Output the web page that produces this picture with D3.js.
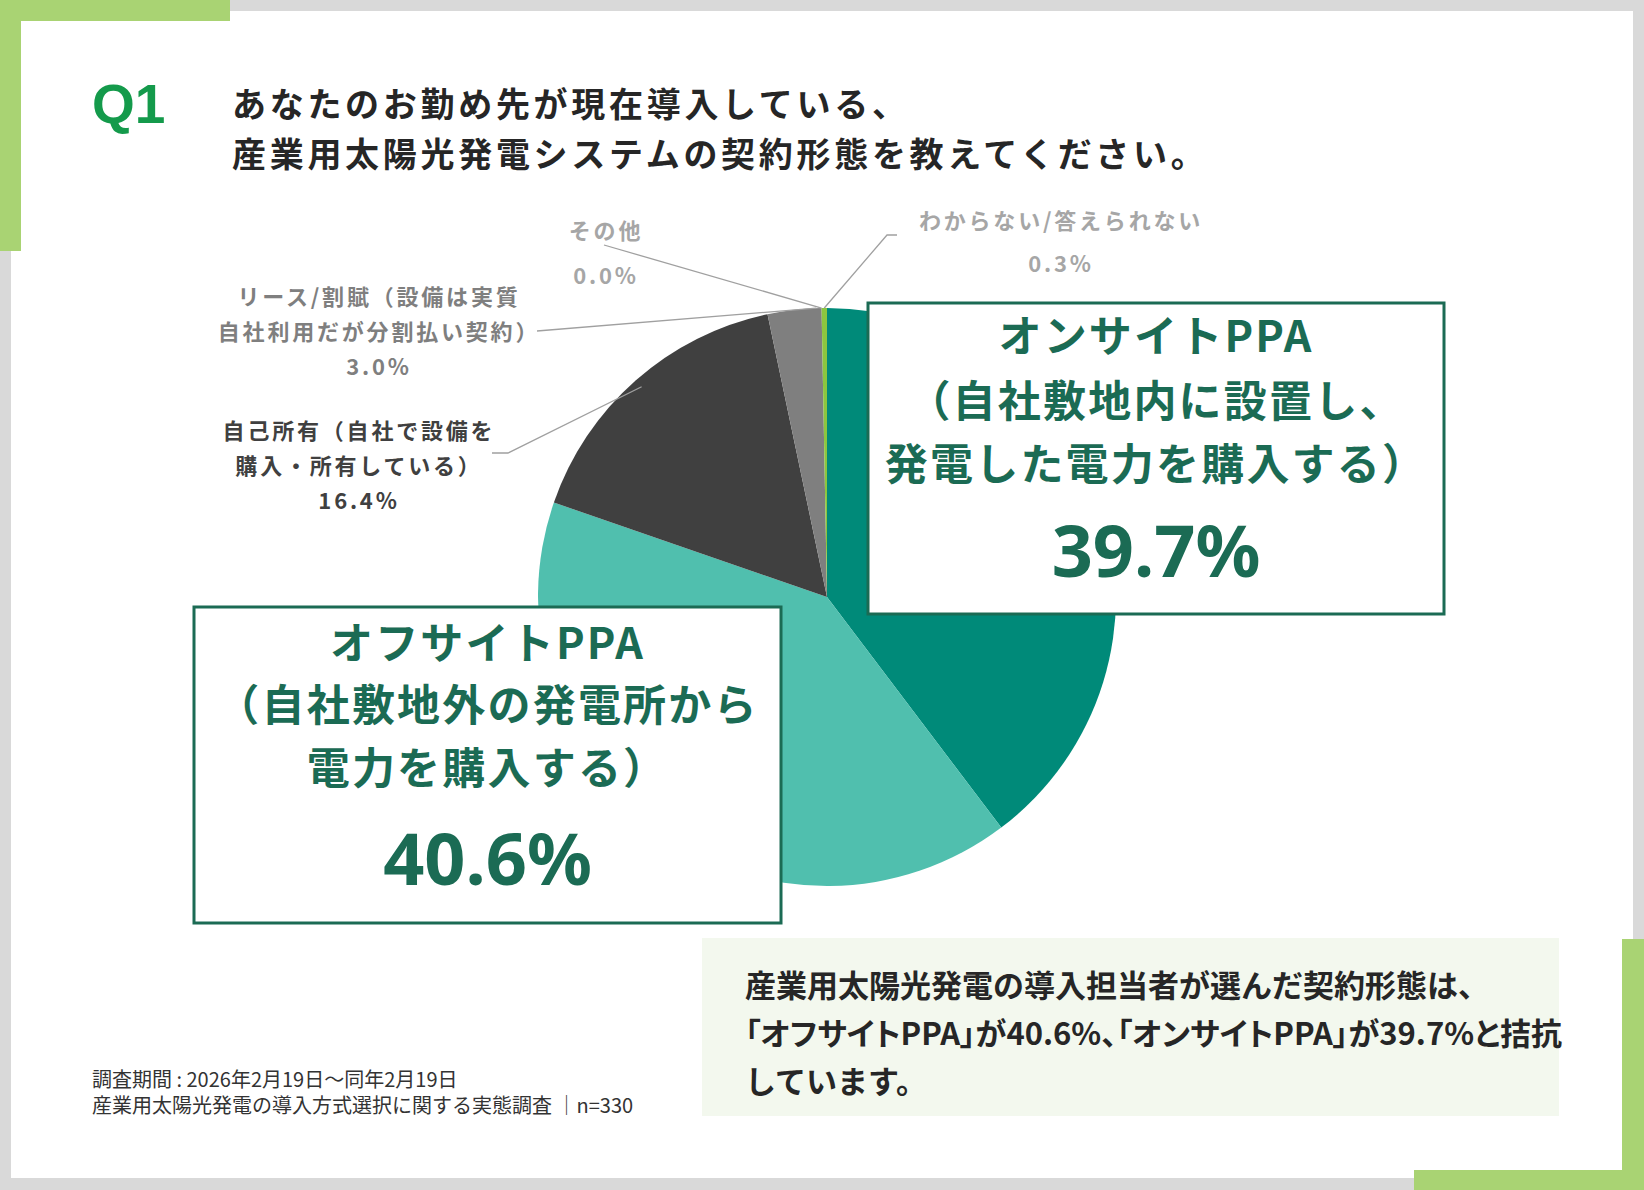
<!DOCTYPE html>
<html>
<head>
<meta charset="utf-8">
<script src="https://cdn.jsdelivr.net/npm/d3@7"></script>
<style>
  body { margin: 0; background: #d9d9d9; }
  svg { display: block; }
  text { font-family: "Noto Sans CJK JP", "Noto Sans", sans-serif; }
</style>
</head>
<body>
<div id="chart"></div>
<script>
// 契約形態（12時から時計回り）
const categories = [
  "オンサイトPPA",
  "オフサイトPPA",
  "自己所有",
  "リース/割賦",
  "その他",
  "わからない/答えられない"
];
const values = [39.7, 40.6, 16.4, 3.0, 0.0, 0.3];
const labelLines = [
  ["オンサイトPPA", "（自社敷地内に設置し、", "発電した電力を購入する）"],
  ["オフサイトPPA", "（自社敷地外の発電所から", "電力を購入する）"],
  ["自己所有（自社で設備を", "購入・所有している）"],
  ["リース/割賦（設備は実質", "自社利用だが分割払い契約）"],
  ["その他"],
  ["わからない/答えられない"]
];
const titleLines = [
  "あなたのお勤め先が現在導入している、",
  "産業用太陽光発電システムの契約形態を教えてください。"
];
const commentLines = [
  "産業用太陽光発電の導入担当者が選んだ契約形態は、",
  "「オフサイトPPA」が40.6%、「オンサイトPPA」が39.7%と拮抗",
  "しています。"
];
const noteLines = [
  "調査期間 : 2026年2月19日～同年2月19日",
  "産業用太陽光発電の導入方式選択に関する実態調査 │n=330"
];

const W = 1644, H = 1190;
const colors = ["#008a79", "#50bfae", "#404040", "#7f7f7f", "#a6a6a6", "#8cc63f"];
const boxGreen = "#1b6b54";

const svg = d3.select("#chart").append("svg")
  .attr("width", W)
  .attr("height", H);

// frame
svg.append("rect").attr("width", W).attr("height", H).attr("fill", "#d9d9d9");
svg.append("rect").attr("x", 11).attr("y", 11).attr("width", 1622).attr("height", 1167).attr("fill", "#fff");
const accent = "#a9d373";
svg.append("rect").attr("x", 0).attr("y", 0).attr("width", 230).attr("height", 21).attr("fill", accent);
svg.append("rect").attr("x", 0).attr("y", 0).attr("width", 21).attr("height", 251).attr("fill", accent);
svg.append("rect").attr("x", 1622).attr("y", 939).attr("width", 22).attr("height", 251).attr("fill", accent);
svg.append("rect").attr("x", 1414).attr("y", 1170).attr("width", 230).attr("height", 20).attr("fill", accent);

// title
svg.append("text")
  .attr("x", 92).attr("y", 123)
  .style("font-family", "'Liberation Sans', Arial, sans-serif")
  .style("font-weight", "bold")
  .style("font-size", "55px")
  .attr("fill", "#149a4b")
  .text("Q1");

svg.append("g").selectAll("text")
  .data(titleLines)
  .join("text")
  .attr("x", 232)
  .attr("y", (d, i) => 117 + i * 50)
  .style("font-weight", "bold")
  .style("font-size", "34px")
  .style("letter-spacing", "3.7px")
  .attr("fill", "#262626")
  .text(d => d);

// pie
const cx = 827, cy = 597, r = 289;
const pie = d3.pie().sort(null).value(d => d);
const arcs = pie(values);
const arc = d3.arc().innerRadius(0).outerRadius(r);

const g = svg.append("g").attr("transform", `translate(${cx},${cy})`);
g.selectAll("path")
  .data(arcs)
  .join("path")
  .attr("d", arc)
  .attr("fill", (d, i) => colors[i]);

const edge = (a, rr) => [cx + rr * Math.sin(a), cy - rr * Math.cos(a)];
const sliceAngle = (d, t) => d.startAngle + (d.endAngle - d.startAngle) * t;

// small outside labels with leader lines
const smallLabels = [
  { i: 4, x: 606, y: 229, step: 45, color: "#a6a6a6", lead: [[604, 245]], t: 0.5, rr: 1 },
  { i: 5, x: 1061, y: 219, step: 43, color: "#a6a6a6", lead: [[897, 235], [887, 235]], t: 0.5, rr: 1 },
  { i: 3, x: 379, y: 295, step: 35, color: "#7f7f7f", lead: [[537, 331]], t: 0.9, rr: 1 },
  { i: 2, x: 359, y: 429, step: 35, color: "#404040", lead: [[492, 453], [508, 453]], t: 0.5, rr: 0.97 }
];

const line = d3.line();
smallLabels.forEach(s => {
  const d = arcs[s.i];
  const pts = s.lead.concat([edge(sliceAngle(d, s.t), r * s.rr)]);
  svg.append("path")
    .attr("d", line(pts))
    .attr("fill", "none")
    .attr("stroke", "#a0a0a0")
    .attr("stroke-width", 1.3);

  const rows = labelLines[s.i].concat([values[s.i].toFixed(1) + "%"]);
  svg.append("g").selectAll("text")
    .data(rows)
    .join("text")
    .attr("x", s.x)
    .attr("y", (t, k) => s.y + k * s.step)
    .attr("text-anchor", "middle")
    .attr("dominant-baseline", "central")
    .style("font-weight", "bold")
    .style("font-size", "22px")
    .style("letter-spacing", "2.8px")
    .attr("fill", s.color)
    .text(t => t);
});

// big label boxes
const boxes = [
  { i: 0, x: 868, y: 303, w: 576, h: 311, rows: [333, 398, 461], pctY: 549 },
  { i: 1, x: 194, y: 607, w: 587, h: 316, rows: [640, 702, 765], pctY: 857 }
];
boxes.forEach(b => {
  svg.append("rect")
    .attr("x", b.x).attr("y", b.y)
    .attr("width", b.w).attr("height", b.h)
    .attr("fill", "#fff")
    .attr("stroke", boxGreen)
    .attr("stroke-width", 3);
  const mx = b.x + b.w / 2;
  svg.append("g").selectAll("text")
    .data(labelLines[b.i])
    .join("text")
    .attr("x", mx)
    .attr("y", (t, k) => b.rows[k])
    .attr("text-anchor", "middle")
    .attr("dominant-baseline", "central")
    .style("font-weight", "bold")
    .style("font-size", "43px")
    .style("letter-spacing", "2.2px")
    .attr("fill", boxGreen)
    .text(t => t);
  svg.append("text")
    .attr("x", mx)
    .attr("y", b.pctY)
    .attr("text-anchor", "middle")
    .attr("dominant-baseline", "central")
    .style("font-family", "'Noto Sans', sans-serif")
    .style("font-weight", "bold")
    .style("font-size", "72px")
    .attr("fill", boxGreen)
    .text(values[b.i].toFixed(1) + "%");
});

// comment box
svg.append("rect")
  .attr("x", 702).attr("y", 938)
  .attr("width", 857).attr("height", 178)
  .attr("fill", "#f3f8ee");
svg.append("g").selectAll("text")
  .data(commentLines)
  .join("text")
  .attr("x", 745)
  .attr("y", (d, i) => 983 + i * 48)
  .attr("dominant-baseline", "central")
  .style("font-weight", "bold")
  .style("font-size", "31px")
  .style("font-feature-settings", (d, i) => i === 1 ? "'palt'" : "normal")
  .attr("fill", "#262626")
  .text(d => d);

// footnote
svg.append("g").selectAll("text")
  .data(noteLines)
  .join("text")
  .attr("x", 92)
  .attr("y", (d, i) => 1078 + i * 26)
  .attr("dominant-baseline", "central")
  .style("font-size", "20px")
  .attr("fill", "#333")
  .text(d => d);
</script>
</body>
</html>
